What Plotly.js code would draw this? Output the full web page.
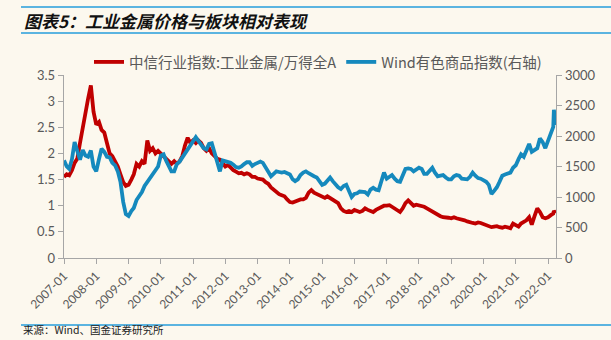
<!DOCTYPE html>
<html>
<head>
<meta charset="utf-8">
<script src="https://cdn.plot.ly/plotly-3.0.1.min.js"></script>
<style>
html,body{margin:0;padding:0;background:#FCF8EE;}
#chart{width:611px;height:340px;}
</style>
</head>
<body>
<div id="chart"></div>
<script>
// Monthly data, 2007-01 .. 2022-03, plus two extra March 2022 points
const startYear = 2007;
const extraDates = ["2022-03-08", "2022-03-28"];

const relPerf = [
  // 2007
  1.55,1.60,1.58,1.68,1.82,1.90,2.20,2.50,2.85,3.05,3.30,2.80,
  // 2008
  2.55,2.60,2.45,2.40,2.20,2.00,1.95,1.85,1.75,1.60,1.45,1.38,
  // 2009
  1.40,1.50,1.60,1.80,1.75,1.85,1.80,2.25,2.05,2.10,2.00,2.05,
  // 2010
  2.00,1.95,1.90,1.85,1.80,1.85,1.80,1.85,1.95,2.15,2.30,2.20,
  // 2011
  2.25,2.20,2.25,2.20,2.10,2.05,2.10,2.00,1.95,1.90,1.88,1.80,
  // 2012
  1.75,1.78,1.72,1.68,1.65,1.62,1.63,1.60,1.62,1.60,1.55,1.55,
  // 2013
  1.52,1.50,1.50,1.45,1.42,1.35,1.30,1.25,1.22,1.20,1.18,1.12,
  // 2014
  1.07,1.06,1.08,1.10,1.12,1.12,1.15,1.25,1.30,1.25,1.22,1.20,
  // 2015
  1.18,1.15,1.18,1.15,1.12,1.10,1.05,0.95,0.90,0.88,0.90,0.88,
  // 2016
  0.92,0.90,0.88,0.90,0.95,0.92,0.90,0.88,0.92,0.95,0.98,1.00,
  // 2017
  1.00,1.01,0.98,0.95,0.92,0.88,0.95,1.05,1.10,1.05,1.00,1.02,
  // 2018
  1.01,1.00,0.98,0.95,0.92,0.88,0.85,0.82,0.80,0.78,0.78,0.77,
  // 2019
  0.76,0.78,0.76,0.75,0.73,0.72,0.70,0.68,0.67,0.66,0.68,0.67,
  // 2020
  0.65,0.63,0.60,0.59,0.60,0.61,0.59,0.58,0.60,0.58,0.57,0.66,
  // 2021
  0.62,0.60,0.66,0.69,0.72,0.78,0.64,0.80,0.95,0.88,0.78,0.76,
  // 2022
  0.78,0.82,0.85
];
const relPerfExtra = [0.90, 0.86];

const metalIdx = [
  // 2007
  1600,1500,1460,1620,1900,1720,1610,1770,1680,1660,1760,1500,
  // 2008
  1420,1620,1790,1740,1660,1650,1560,1520,1420,1250,920,720,
  // 2009
  690,770,820,950,1020,1080,1180,1250,1320,1390,1440,1500,
  // 2010
  1680,1700,1600,1520,1420,1420,1540,1580,1650,1700,1760,1850,
  // 2011
  1920,1980,1920,1850,1800,1780,1870,1880,1720,1600,1420,1600,
  // 2012
  1590,1580,1560,1530,1490,1480,1500,1540,1570,1570,1510,1540,
  // 2013
  1560,1580,1560,1480,1420,1340,1380,1420,1410,1400,1410,1390,
  // 2014
  1370,1290,1260,1290,1360,1400,1420,1390,1360,1340,1320,1260,
  // 2015
  1200,1220,1260,1320,1260,1200,1160,1130,1180,1200,1080,1000,
  // 2016
  1050,1060,1090,1080,1080,1040,1120,1150,1120,1110,1260,1400,
  // 2017
  1300,1340,1360,1300,1260,1250,1360,1460,1470,1460,1420,1450,
  // 2018
  1480,1460,1380,1380,1430,1480,1400,1340,1350,1360,1320,1290,
  // 2019
  1290,1340,1360,1350,1300,1290,1290,1330,1400,1350,1310,1300,
  // 2020
  1280,1250,1200,1050,1100,1160,1250,1350,1370,1380,1400,1480,
  // 2021
  1520,1620,1700,1660,1780,1870,1740,1780,1800,1960,1900,1800,
  // 2022
  1930,2050,2150
];
const metalIdxExtra = [2430, 2180];

const tickYears = [2007,2008,2009,2010,2011,2012,2013,2014,2015,2016,2017,2018,2019,2020,2021,2022];

const nameRed = "中信行业指数:工业金属/万得全A";
const nameBlue = "Wind有色商品指数(右轴)";
const titleText = "图表5：工业金属价格与板块相对表现";
const sourceText = "来源：Wind、国金证券研究所";

function pad(n){return (n<10?"0":"")+n;}
const dates = relPerf.map((_, i) => {
  const y = startYear + Math.floor(i/12);
  const m = i % 12 + 1;
  return y + "-" + pad(m) + "-01";
}).concat(extraDates);
const redY = relPerf.concat(relPerfExtra);
const blueY = metalIdx.concat(metalIdxExtra);
const tickVals = tickYears.map(y => y + "-01-01");
const tickText = tickYears.map(y => y + "-01");

const fontFam = "Lato, 'Noto Sans CJK SC', sans-serif";
const gray = "#595959";
const axisGray = "#A6A6A6";

const traces = [
  {x: dates, y: redY, name: nameRed, type: "scatter", mode: "lines",
   line: {color: "#C00000", width: 3.8}, yaxis: "y"},
  {x: dates, y: blueY, name: nameBlue, type: "scatter", mode: "lines",
   line: {color: "#1589BD", width: 3.8}, yaxis: "y2"}
];

const L = 64, R = 556, T = 75, B = 258;
const px = p => (p - L) / (R - L);
const py = q => (B - q) / (B - T);

const layout = {
  width: 611, height: 340,
  margin: {l: L, r: 611 - R, t: T, b: 340 - B, pad: 0},
  paper_bgcolor: "#FCF8EE",
  plot_bgcolor: "#FCF8EE",
  font: {family: fontFam, color: gray, size: 12},
  showlegend: true,
  legend: {orientation: "h", x: px(89), xanchor: "left", y: py(62), yanchor: "middle",
           font: {size: 14.5, color: gray, family: "'Noto Sans CJK SC', sans-serif"},
           bgcolor: "rgba(0,0,0,0)", itemwidth: 30, tracegroupgap: 0},
  xaxis: {type: "date", range: ["2007-01-01", "2022-04-01"],
          tickmode: "array", tickvals: tickVals, ticktext: tickText, tickangle: -45,
          showgrid: false, zeroline: false, showline: true, linecolor: axisGray, linewidth: 1.3,
          ticks: "outside", ticklen: 5, tickcolor: axisGray, tickfont: {size: 12, color: gray}},
  yaxis: {range: [0, 3.5], dtick: 0.5, tickformat: "", showgrid: false, zeroline: false,
          showline: true, linecolor: axisGray, linewidth: 1.3, ticks: "outside", ticklen: 5,
          tickcolor: axisGray, tickfont: {size: 13, color: gray}},
  yaxis2: {range: [0, 3000], dtick: 500, overlaying: "y", side: "right", showgrid: false,
           zeroline: false, showline: true, linecolor: axisGray, linewidth: 1.3, ticks: "outside",
           ticklen: 5, tickcolor: axisGray, tickfont: {size: 13, color: gray}},
  shapes: [
    {type: "line", xref: "paper", yref: "paper", x0: px(21), x1: px(611), y0: py(7), y1: py(7),
     line: {color: "#5BB4E0", width: 2}},
    {type: "line", xref: "paper", yref: "paper", x0: px(21), x1: px(611), y0: py(33), y1: py(33),
     line: {color: "#5BB4E0", width: 2}},
    {type: "line", xref: "paper", yref: "paper", x0: px(21), x1: px(611), y0: py(325), y1: py(325),
     line: {color: "#5BB4E0", width: 2}}
  ],
  annotations: [
    {text: "<b><i>" + titleText + "</i></b>", xref: "paper", yref: "paper",
     x: px(22), y: py(20), xanchor: "left", yanchor: "middle", showarrow: false,
     font: {size: 17, color: "#111111", family: "'Noto Sans CJK SC', sans-serif"}},
    {text: sourceText, xref: "paper", yref: "paper",
     x: px(21), y: py(339), xanchor: "left", yanchor: "bottom", showarrow: false,
     font: {size: 10.5, color: "#222222", family: "'Noto Sans CJK SC', sans-serif"}}
  ]
};

Plotly.newPlot("chart", traces, layout, {displayModeBar: false, staticPlot: true});
</script>
</body>
</html>
